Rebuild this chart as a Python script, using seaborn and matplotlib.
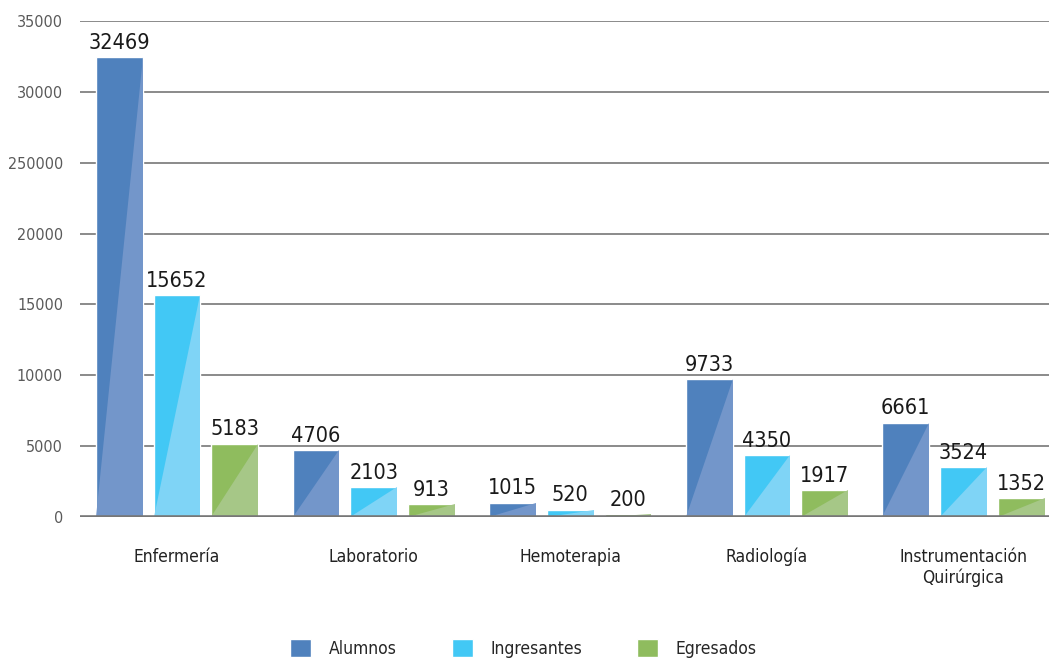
import matplotlib
matplotlib.use("Agg")
import matplotlib.pyplot as plt
from matplotlib.patches import Polygon
import seaborn as sns
import pandas as pd

# Datos por carrera
carreras = ["Enfermería", "Laboratorio", "Hemoterapia", "Radiología", "Instrumentación\nQuirúrgica"]
alumnos = [32469, 4706, 1015, 9733, 6661]
ingresantes = [15652, 2103, 520, 4350, 3524]
egresados = [5183, 913, 200, 1917, 1352]
series = ["Alumnos", "Ingresantes", "Egresados"]
y_ticks = [0, 5000, 10000, 15000, 20000, 25000, 30000, 35000]
y_tick_labels = ["0", "5000", "10000", "15000", "20000", "250000", "30000", "35000"]

colores = ["#4f81bd", "#42c8f5", "#8fbc5e"]
colores_claros = ["#7396ca", "#7fd4f6", "#a6c787"]

df = pd.DataFrame({
    "Carrera": carreras * 3,
    "Serie": [s for s in series for _ in carreras],
    "Valor": alumnos + ingresantes + egresados,
})

sns.set_theme(style="white")
plt.rcParams["font.family"] = ["DejaVu Sans"]
plt.rcParams["font.stretch"] = "condensed"

fig = plt.figure(figsize=(10.49, 6.63), dpi=100)
ax = fig.add_axes([0.076, 0.2202, 0.924, 0.7481])

sns.barplot(data=df, x="Carrera", y="Valor", hue="Serie", hue_order=series,
            palette=colores, width=0.88, gap=0.19, ax=ax, legend=False,
            saturation=1, errorbar=None)

# Triángulo claro en cada barra (diagonal de abajo-izquierda a arriba-derecha)
for cont, claro in zip(ax.containers, colores_claros):
    for p in cont.patches:
        x0, y0 = p.get_x(), p.get_y()
        w, h = p.get_width(), p.get_height()
        tri = Polygon([(x0, y0), (x0 + w, y0), (x0 + w, y0 + h)], closed=True,
                      facecolor=claro, edgecolor="none", zorder=p.get_zorder() + 0.1)
        ax.add_patch(tri)
    ax.bar_label(cont, fmt="%d", padding=3, fontsize=15.5, color="#1a1a1a")

ax.set_ylim(0, 35000)
ax.set_xlim(-0.495, 4.435)
ax.set_yticks(y_ticks)
ax.set_yticklabels(y_tick_labels)
ax.tick_params(axis="y", length=0, pad=12, labelsize=11.5, labelcolor="#5a5a5a")
ax.tick_params(axis="x", length=0, pad=22, labelsize=12.5, labelcolor="#222222")
ax.set_xlabel("")
ax.set_ylabel("")
for s in ax.spines.values():
    s.set_visible(False)
for yv in y_ticks[1:]:
    ax.axhline(yv, color="#8a8a8a", linewidth=1.4, zorder=0)
ax.axhline(0, color="#777777", linewidth=2.6, zorder=5)

handles = [plt.Rectangle((0, 0), 1, 1, facecolor=c) for c in colores]
fig.legend(handles, series, loc="center", bbox_to_anchor=(0.499, 0.022), ncol=3,
           frameon=False, fontsize=12.5, handlelength=1.2, handleheight=1.2,
           columnspacing=3.2, handletextpad=1.0)

fig.savefig("out.png", dpi=100)
